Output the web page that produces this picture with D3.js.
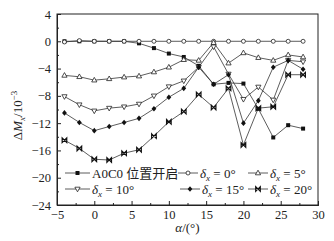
<!DOCTYPE html>
<html lang="zh">
<head>
<meta charset="utf-8">
<script src="https://cdn.jsdelivr.net/npm/d3@7"></script>
<style>
html, body { margin: 0; padding: 0; background: #fff; }
#chart { width: 334px; height: 241px; }
svg text { font-family: "Liberation Serif", "Times New Roman", "Noto Sans CJK SC", serif; fill: #222; }
</style>
</head>
<body>
<div id="chart"></div>
<script>
// 攻角
var alpha = [-4, -2, 0, 2, 4, 6, 8, 10, 12, 14, 16, 18, 20, 22, 24, 26, 28];

// 各工况 ΔMx (x10^-3)
var a0c0 = [0, 0, 0, 0, 0, -0.3, -1.0, -1.8, -2.3, -3.6, -6.3, -6.1, -6.2, -9.9, -14.1, -12.3, -12.8];
var d0   = [-0.1, 0.1, 0, 0, 0, 0, 0, 0, 0, 0, 0, 0, 0, 0, 0, 0, 0];
var d5   = [-5.0, -5.2, -5.7, -5.5, -5.25, -5.1, -4.5, -3.8, -2.7, -2.8, -0.2, -3.2, -1.7, -2.4, -2.8, -2.0, -2.3];
var d10  = [-8.1, -9.3, -10.2, -9.8, -9.6, -9.2, -8.0, -6.65, -5.8, -3.8, -0.8, -4.8, -8.5, -6.7, -8.6, -2.8, -3.0];
var d15  = [-10.5, -11.9, -13.1, -12.5, -11.9, -11.3, -9.9, -8.2, -6.9, -3.8, -6.3, -4.9, -12.0, -8.7, -3.8, -2.8, -4.1];
var d20  = [-14.5, -15.7, -17.3, -17.4, -16.4, -15.9, -13.9, -11.8, -10.3, -7.8, -9.7, -6.9, -15.2, -9.8, -9.6, -4.9, -4.9];

var seriesNames = ["A0C0 位置开启", "0", "5", "10", "15", "20"];
var seriesValues = [a0c0, d0, d5, d10, d15, d20];
var seriesMarks = ["square", "circle", "triUp", "triDown", "diamond", "bowtie"];

var xTicks = [-5, 0, 5, 10, 15, 20, 25, 30];
var yTicks = [4, 0, -4, -8, -12, -16, -20, -24];

var width = 334, height = 241;
var margin = {left: 57, top: 14, right: 16, bottom: 36};
var plotWidth = width - margin.left - margin.right;
var plotHeight = height - margin.top - margin.bottom;

var svg = d3.select("#chart").append("svg")
    .attr("width", width)
    .attr("height", height);

var xScale = d3.scaleLinear().domain([-5, 30]).range([0, plotWidth]);
var yScale = d3.scaleLinear().domain([-24, 4]).range([plotHeight, 0]);

var plot = svg.append("g").attr("transform", "translate(" + [margin.left, margin.top] + ")");

// 枠
plot.append("rect")
    .attr("width", plotWidth).attr("height", plotHeight)
    .attr("fill", "none").attr("stroke", "#222").attr("stroke-width", 1);

// 軸
var xAxis = plot.append("g").attr("transform", "translate(0," + plotHeight + ")")
    .call(d3.axisBottom(xScale).tickValues(xTicks).tickSize(-4).tickPadding(5));
plot.append("g").attr("transform", "translate(0," + plotHeight + ")")
    .call(d3.axisBottom(xScale).tickValues(d3.range(-2.5, 30, 5)).tickSize(-2).tickFormat(""));
var yAxis = plot.append("g")
    .call(d3.axisLeft(yScale).tickValues(yTicks).tickSize(-4).tickPadding(6)
        .tickFormat(function(d){ return d < 0 ? "\u2212" + Math.abs(d) : d; }));
plot.append("g")
    .call(d3.axisLeft(yScale).tickValues(d3.range(-22, 4, 4)).tickSize(-2).tickFormat(""));

plot.selectAll(".domain").attr("stroke", "#222");
plot.selectAll(".tick line").attr("stroke", "#222");
plot.selectAll(".tick text").attr("font-size", 12.5).attr("font-family", "Liberation Serif").attr("fill", "#222");

// 記号
function marker(g, type) {
    var s = 2.3;
    if (type == "square") {
        g.append("rect").attr("x", -2).attr("y", -2).attr("width", 4).attr("height", 4).attr("fill", "#111");
    } else if (type == "circle") {
        g.append("circle").attr("r", 2).attr("fill", "#fff").attr("stroke", "#222").attr("stroke-width", 0.8);
    } else if (type == "triUp") {
        g.append("path").attr("d", "M0,-2.8L2.6,1.8L-2.6,1.8Z").attr("fill", "#fff").attr("stroke", "#222").attr("stroke-width", 0.8);
    } else if (type == "triDown") {
        g.append("path").attr("d", "M0,2.8L2.6,-1.8L-2.6,-1.8Z").attr("fill", "#fff").attr("stroke", "#222").attr("stroke-width", 0.8);
    } else if (type == "diamond") {
        g.append("path").attr("d", "M0,-2.8L2.4,0L0,2.8L-2.4,0Z").attr("fill", "#111");
    } else {
        g.append("path").attr("d", "M-" + s + ",-" + s + "L" + s + "," + s + "L" + s + ",-" + s + "L-" + s + "," + s + "Z")
            .attr("fill", "none").attr("stroke", "#111").attr("stroke-width", 1.2);
    }
}

var line = d3.line()
    .x(function(d, i){ return xScale(alpha[i]); })
    .y(function(d){ return yScale(d); });

seriesValues.forEach(function(vals, k) {
    plot.append("path")
        .attr("d", line(vals))
        .attr("fill", "none").attr("stroke", "#333").attr("stroke-width", 0.8);
});
seriesValues.forEach(function(vals, k) {
    plot.selectAll(".m" + k).data(vals).enter().append("g")
        .attr("transform", function(d, i){ return "translate(" + [xScale(alpha[i]), yScale(d)] + ")"; })
        .each(function(){ marker(d3.select(this), seriesMarks[k]); });
});

// 凡例
var legendPos = [[8, 159], [121, 159], [191, 159], [8, 175], [123, 175], [191, 175]];
seriesNames.forEach(function(name, k) {
    var g = plot.append("g").attr("transform", "translate(" + legendPos[k] + ")");
    var lw = k == 0 || k == 3 ? 25 : 20;
    g.append("line").attr("x1", 0).attr("x2", lw).attr("stroke", "#333").attr("stroke-width", 0.8);
    marker(g.append("g").attr("transform", "translate(" + (lw / 2) + ",0)"), seriesMarks[k]);
    var t = g.append("text").attr("x", lw + 2).attr("y", 4.5).attr("font-size", 13);
    if (k == 0) {
        t.text(name);
    } else {
        t.append("tspan").attr("font-style", "italic").text("δ");
        t.append("tspan").attr("font-style", "italic").attr("font-size", 9).attr("dy", 3).text("x");
        t.append("tspan").attr("dy", -3).text(" = " + name + "°");
    }
});

// 軸タイトル
svg.append("text")
    .attr("x", margin.left + plotWidth / 2).attr("y", 232)
    .attr("text-anchor", "middle").attr("font-size", 13)
    .html('<tspan font-style="italic">α</tspan>/(°)');

var yt = svg.append("text")
    .attr("transform", "translate(22," + (margin.top + plotHeight / 2 + 6) + ") rotate(-90)")
    .attr("text-anchor", "middle").attr("font-size", 13);
yt.append("tspan").text("Δ");
yt.append("tspan").attr("font-style", "italic").text("M");
yt.append("tspan").attr("font-style", "italic").attr("font-size", 9).attr("dy", 3).text("x");
yt.append("tspan").attr("dy", -3).text("/10");
yt.append("tspan").attr("font-size", 9).attr("dy", -5).text("−3");
</script>
</body>
</html>
